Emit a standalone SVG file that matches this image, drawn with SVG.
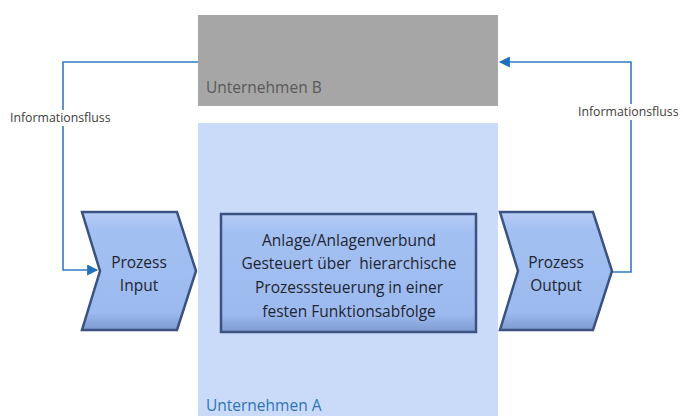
<svg xmlns="http://www.w3.org/2000/svg" width="683" height="416" viewBox="0 0 683 416">
<style>
.lbl{font-family:"Open Sans","Liberation Sans",sans-serif;font-size:12.3px;fill:#404040}
.node{font-family:"Open Sans","Liberation Sans",sans-serif;font-size:15.5px;fill:#1f2530;text-anchor:middle}
.co{font-family:"Open Sans","Liberation Sans",sans-serif;font-size:15.5px}
.conn{fill:none;stroke:#2e7dc4;stroke-width:1.6}
.shape{fill:url(#g);stroke:#3c5282;stroke-width:2.5;stroke-linejoin:miter}
</style>
<defs>
<linearGradient id="g" x1="0" y1="0" x2="0" y2="1">
<stop offset="0" stop-color="#b6cdf5"/>
<stop offset="0.15" stop-color="#a3c0f2"/>
<stop offset="0.85" stop-color="#9cbaef"/>
<stop offset="1" stop-color="#7e9bd0"/>
</linearGradient>
<marker id="a2" viewBox="0 0 10 10" refX="9" refY="5" markerWidth="14" markerHeight="11" orient="auto" markerUnits="userSpaceOnUse">
<path d="M0,0 L10,5 L0,10 z" fill="#1f6fbf"/>
</marker>
</defs>
<rect width="683" height="416" fill="#ffffff"/>
<g id="unternehmenB">
<rect x="198" y="15" width="300" height="91" fill="#a6a6a6"/>
<text x="206" y="93" class="co" fill="#595959">Unternehmen B</text>
</g>
<g id="unternehmenA">
<rect x="198" y="123" width="300" height="293" fill="#c9dbf8"/>
<text x="206" y="411" class="co" fill="#2e75b6">Unternehmen A</text>
</g>
<g id="connectors">
<polyline class="conn" points="198,62 63,62 63,270 97,270" marker-end="url(#a2)"/>
<polyline class="conn" points="611,272 631,272 631,62 500,62" marker-end="url(#a2)"/>
<rect x="8" y="110" width="108" height="16" fill="#ffffff"/>
<text x="10" y="122" class="lbl">Informationsfluss</text>
<rect x="576" y="104" width="106" height="16" fill="#ffffff"/>
<text x="578" y="116" class="lbl">Informationsfluss</text>
</g>
<g id="prozessInput">
<polygon class="shape" points="82,212 177,212 196,271 177,330 82,330 100,271"/>
<text class="node" x="139" y="268">Prozess</text>
<text class="node" x="139" y="291">Input</text>
</g>
<g id="anlage">
<rect class="shape" x="221" y="214" width="255" height="118"/>
<text class="node" x="349" y="246">Anlage/Anlagenverbund</text>
<text class="node" x="349" y="269" xml:space="preserve">Gesteuert über  hierarchische</text>
<text class="node" x="349" y="293">Prozesssteuerung in einer</text>
<text class="node" x="349" y="317">festen Funktionsabfolge</text>
</g>
<g id="prozessOutput">
<polygon class="shape" points="500,212 593,212 612,271 593,330 500,330 518,271"/>
<text class="node" x="556" y="268">Prozess</text>
<text class="node" x="556" y="291">Output</text>
</g>
</svg>
